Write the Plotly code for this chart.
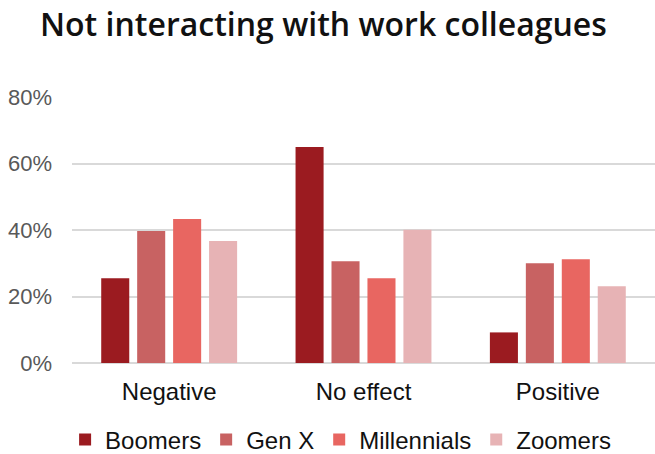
import plotly.graph_objects as go

categories = ["Negative", "No effect", "Positive"]
series_names = ["Boomers", "Gen X", "Millennials", "Zoomers"]
boomers = [0.255, 0.65, 0.092]
gen_x = [0.397, 0.306, 0.300]
millennials = [0.433, 0.255, 0.312]
zoomers = [0.367, 0.401, 0.231]
colors = ["#9B1B20", "#C86262", "#E86661", "#E7B3B5"]
y_ticks = [0, 0.2, 0.4, 0.6, 0.8]
y_tick_labels = ["0%", "20%", "40%", "60%", "80%"]

fig = go.Figure()
for name, vals, col in zip(series_names, [boomers, gen_x, millennials, zoomers], colors):
    fig.add_trace(go.Bar(x=categories, y=vals, name=name, marker=dict(color=col, line=dict(width=0))))

fig.update_layout(
    width=655, height=454,
    margin=dict(l=72, r=0, t=97, b=91, autoexpand=False),
    paper_bgcolor="white", plot_bgcolor="white",
    barmode="group", bargap=0.26, bargroupgap=0.22,
    title=dict(text="Not interacting with work colleagues", x=40/655, xanchor="left",
               y=1-25/454, yanchor="middle",
               font=dict(family="Open Sans", size=32, color="#111111", weight=600)),
    legend=dict(orientation="h", x=0.52, xanchor="center", xref="container",
                y=1-440/454, yanchor="middle", yref="container",
                font=dict(family="Liberation Sans", size=24, color="#111111"),
                itemwidth=30, traceorder="normal"),
    font=dict(family="Liberation Sans"),
)
fig.update_yaxes(range=[0, 0.8], tickvals=y_ticks, ticktext=y_tick_labels,
                 showgrid=True, gridcolor="#D9D9D9", gridwidth=1.5,
                 zeroline=True, zerolinecolor="#D9D9D9", zerolinewidth=1.5,
                 showline=False, tickfont=dict(family="Liberation Sans", size=22, color="#595959"),
                 ticklabelstandoff=19, automargin=False)
fig.update_xaxes(showgrid=False, showline=False, tickangle=0, automargin=False,
                 tickfont=dict(family="Liberation Sans", size=24, color="#111111"),
                 ticklabelstandoff=12)

fig.write_html("out.html")
